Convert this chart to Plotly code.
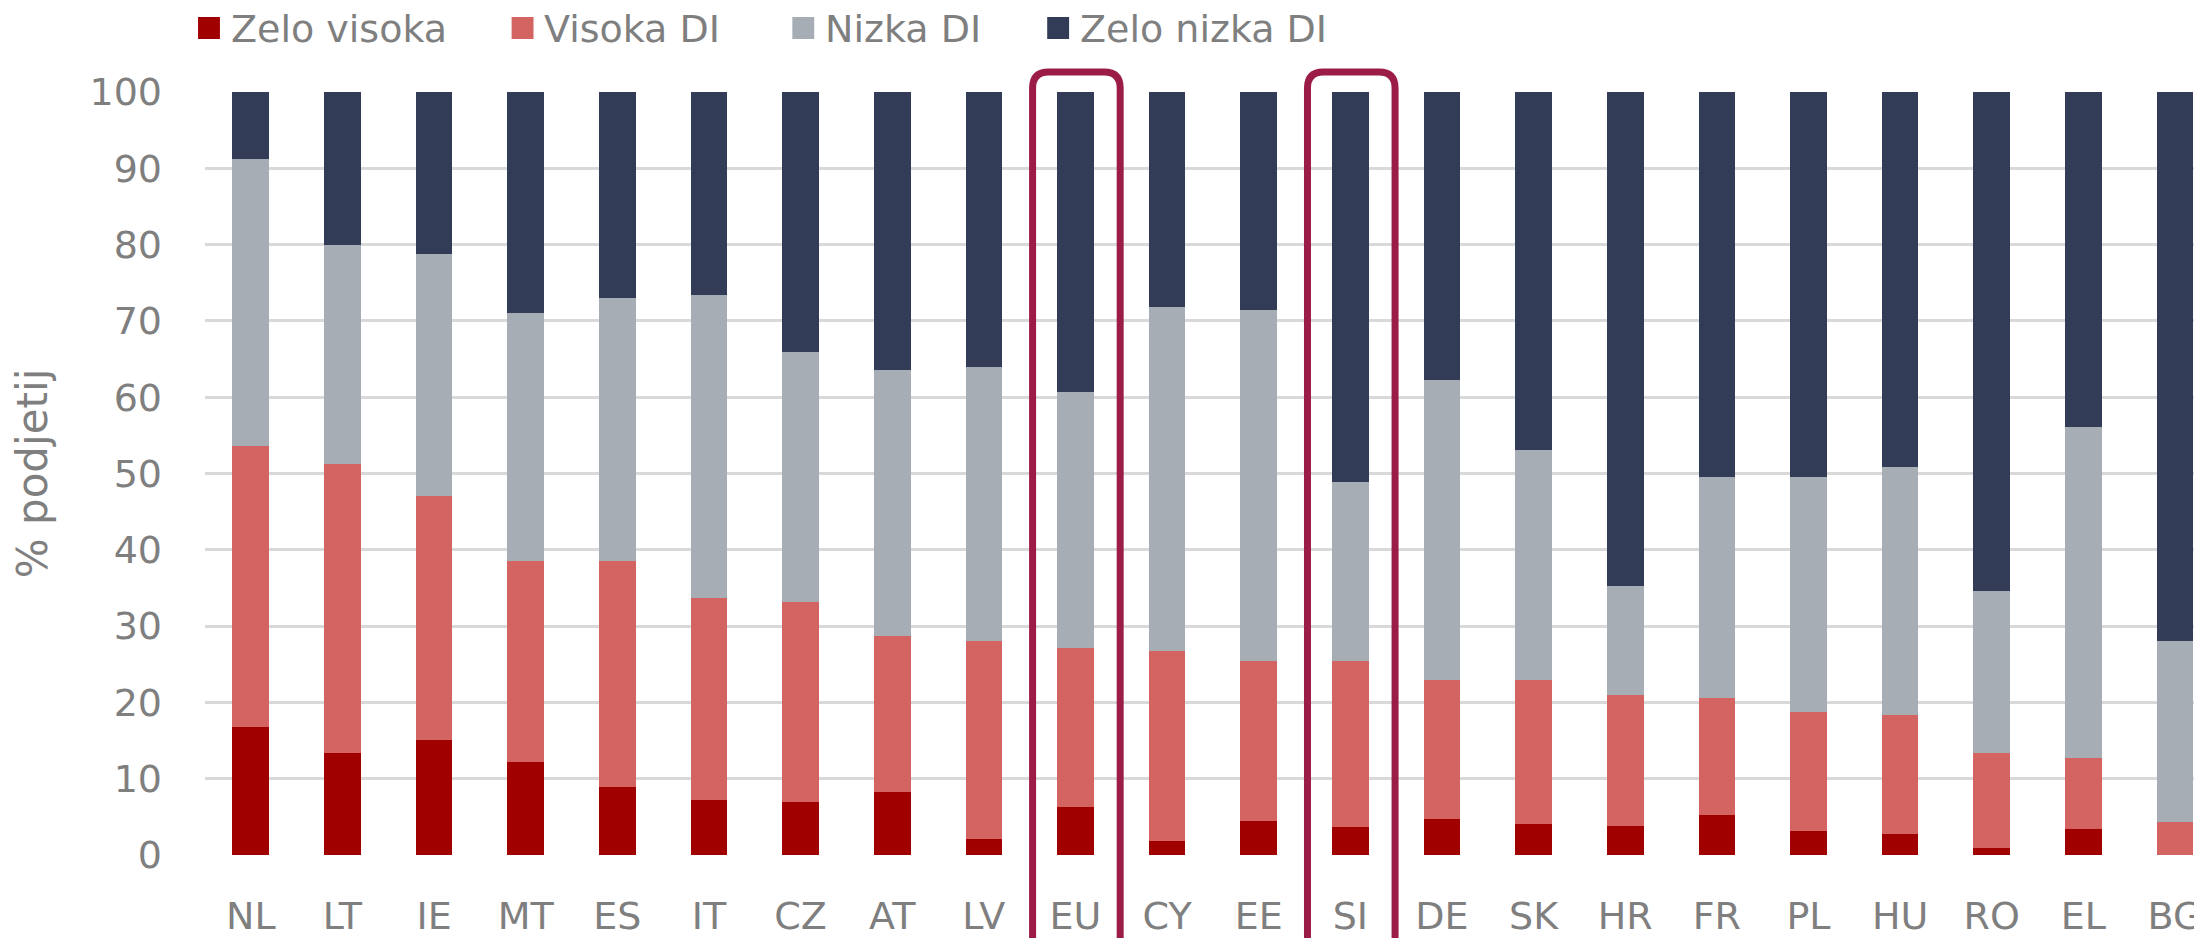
import plotly.graph_objects as go

# Share of firms by digital intensity (DI) level, per country
countries = ["NL", "LT", "IE", "MT", "ES", "IT", "CZ", "AT", "LV", "EU", "CY",
             "EE", "SI", "DE", "SK", "HR", "FR", "PL", "HU", "RO", "EL", "BG"]

zelo_visoka = [16.8, 13.4, 15.1, 12.2, 8.9, 7.2, 7.0, 8.3, 2.1, 6.3, 1.8,
               4.4, 3.7, 4.7, 4.1, 3.8, 5.3, 3.1, 2.8, 0.9, 3.4, 0.0]
visoka_di = [36.8, 37.9, 31.9, 26.3, 29.6, 26.5, 26.1, 20.4, 26.0, 20.8, 25.0,
             21.0, 21.7, 18.2, 18.8, 17.2, 15.3, 15.6, 15.6, 12.5, 9.3, 4.3]
nizka_di = [37.6, 28.6, 31.8, 32.5, 34.5, 39.7, 32.8, 34.9, 35.8, 33.6, 45.0,
            46.0, 23.5, 39.3, 30.2, 14.3, 29.0, 30.9, 32.5, 21.2, 43.4, 23.8]
zelo_nizka_di = [8.8, 20.1, 21.2, 29.0, 27.0, 26.6, 34.1, 36.4, 36.1, 39.3, 28.2,
                 28.6, 51.1, 37.8, 46.9, 64.7, 50.4, 50.4, 49.1, 65.4, 43.9, 71.9]

series_names = ["Zelo visoka", "Visoka DI", "Nizka DI", "Zelo nizka DI"]
series_colors = ["#a00000", "#d46462", "#a7adb4", "#333c56"]
highlighted = ["EU", "SI"]

y_ticks = list(range(0, 101, 10))

# layout geometry (pixels); the page body adds an 8px offset
OFF = 8
W, H = 2202 - OFF, 938 - OFF
ML, MR, MT, MB = 193, 0, 84, 83
PW, PH = W - ML - MR, H - MT - MB
x_range = [-0.5, 21.24]


def px_x(p):
    # screenshot x pixel -> paper fraction
    return (p - OFF - ML) / PW


def px_y(p):
    # screenshot y pixel -> paper fraction
    return (H - MB - (p - OFF)) / PH


def cat_x(i):
    return (i - x_range[0]) / (x_range[1] - x_range[0])


txt_color = "#7f7f7f"
tick_font = dict(family="DejaVu Sans, sans-serif", size=38, color=txt_color)
legend_font = dict(family="DejaVu Sans, sans-serif", size=38, color=txt_color)

fig = go.Figure()

for name, vals, col in zip(series_names,
                           [zelo_visoka, visoka_di, nizka_di, zelo_nizka_di],
                           series_colors):
    fig.add_trace(go.Bar(
        x=countries,
        y=vals,
        name=name,
        marker=dict(color=col, line=dict(width=0)),
        showlegend=False,
    ))

shapes = []
annotations = []

# hand-made legend on top row
legend_left = [194, 509, 791, 1047]
for name, col, left in zip(series_names, series_colors, legend_left):
    shapes.append(dict(
        type="rect", xref="paper", yref="paper",
        x0=px_x(left), x1=px_x(left + 22), y0=px_y(39), y1=px_y(17),
        fillcolor=col, line=dict(width=0),
    ))
    annotations.append(dict(
        text=name, xref="paper", yref="paper",
        x=px_x(left + 31), y=px_y(29), xanchor="left", yanchor="middle",
        showarrow=False, font=legend_font,
    ))

# rounded boxes round EU and SI
rx = 16 / PW
ry = 16 / PH
for c in highlighted:
    i = countries.index(c)
    x0, x1 = cat_x(i - 0.468), cat_x(i + 0.488)
    y1, y0 = px_y(72), px_y(938 + 40)
    path = (f"M {x0},{y0} L {x0},{y1 - ry} Q {x0},{y1} {x0 + rx},{y1} "
            f"L {x1 - rx},{y1} Q {x1},{y1} {x1},{y1 - ry} L {x1},{y0}")
    shapes.append(dict(
        type="path", xref="paper", yref="paper", path=path,
        line=dict(color="#9c1c48", width=7), layer="above",
    ))

fig.update_layout(
    barmode="stack",
    bargap=0.6,
    width=W,
    height=H,
    margin=dict(l=ML, r=MR, t=MT, b=MB),
    plot_bgcolor="white",
    paper_bgcolor="white",
    shapes=shapes,
    annotations=annotations,
    xaxis=dict(
        range=x_range,
        showgrid=False,
        showline=False,
        zeroline=False,
        ticks="",
        tickfont=tick_font,
        ticklabelstandoff=35,
    ),
    yaxis=dict(
        range=[0, 100],
        tickvals=y_ticks,
        showgrid=True,
        gridcolor="#d9d9d9",
        gridwidth=2.5,
        zeroline=False,
        showline=False,
        ticks="",
        tickfont=tick_font,
        ticklabelstandoff=42,
        title=dict(text="% podjetij",
                   font=dict(family="DejaVu Sans, sans-serif", size=42, color=txt_color),
                   standoff=52),
    ),
)

fig.write_html("out.html")
